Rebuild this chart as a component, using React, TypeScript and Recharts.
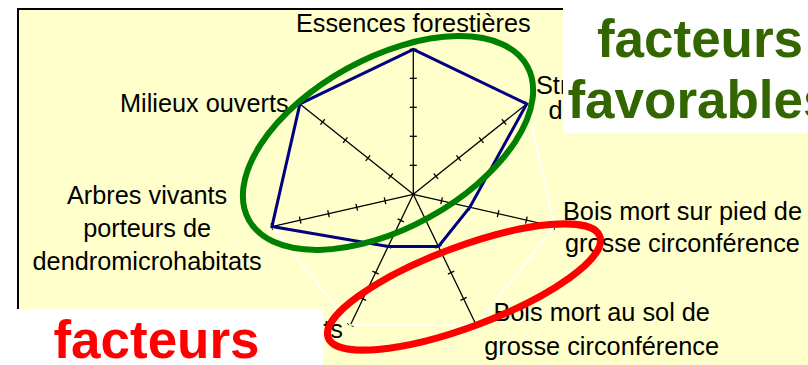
import { RadarChart, PolarGrid, PolarAngleAxis, PolarRadiusAxis, Radar } from 'recharts';

// axes of the IBP radar, clockwise from the top
const CATEGORIES = [
  'Essences forestières',
  'Structure verticale de la végétation',
  'Bois mort sur pied de grosse circonférence',
  'Bois mort au sol de grosse circonférence',
  'Très gros bois vivants',
  'Arbres vivants porteurs de dendromicrohabitats',
  'Milieux ouverts',
];
const LABEL_LINES = [
  ['Essences forestières'],
  ['Structure verticale', 'de la végétation'],
  ['Bois mort sur pied de', 'grosse circonférence'],
  ['Bois mort au sol de', 'grosse circonférence'],
  ['Très gros bois vivants'],
  ['Arbres vivants', 'porteurs de', 'dendromicrohabitats'],
  ['Milieux ouverts'],
];
const SCORES = [5, 5, 2, 2, 2, 5, 5];
const SCALE_MAX = 5;

const data = CATEGORIES.map((axe, i) => ({ axe, score: SCORES[i] }));

const W = 808;
const H = 365;
const CX = 413.3;
const CY = 194.3;
const R = 145;
const FONT = "'Liberation Sans', Arial, sans-serif";

// where each category label sits relative to the angle-axis tick point
const LABEL_LAYOUT = [
  { anchor: 'middle', dx: 0, dy: -9, lh: 33 },
  { anchor: 'middle', dx: 105, dy: -5, lh: 25 },
  { anchor: 'middle', dx: 120, dy: -8, lh: 32 },
  { anchor: 'middle', dx: 122, dy: -11, lh: 34 },
  { anchor: 'end', dx: -4, dy: 6, lh: 33 },
  { anchor: 'middle', dx: -117, dy: -24, lh: 33 },
  { anchor: 'end', dx: -5, dy: 13, lh: 33 },
];

function CategoryLabel(props: any) {
  const { x, y, index } = props;
  const lay = LABEL_LAYOUT[index];
  const lines = LABEL_LINES[index];
  return (
    <text x={x + lay.dx} y={y + lay.dy} textAnchor={lay.anchor} fontFamily={FONT} fontSize={25.3} fill="#000">
      {lines.map((l, k) => (
        <tspan key={k} x={x + lay.dx} dy={k === 0 ? 0 : lay.lh}>
          {l}
        </tspan>
      ))}
    </text>
  );
}

function makeTickMark(angle: number) {
  const rad = (angle * Math.PI) / 180;
  const px = Math.sin(rad) * 3.5;
  const py = Math.cos(rad) * 3.5;
  return (props: any) => {
    const { x, y, payload } = props;
    if (!payload || payload.value === 0) return <g />;
    return <line x1={x - px} y1={y - py} x2={x + px} y2={y + py} stroke="#000" strokeWidth={1.3} />;
  };
}

// one chart layer per category axis so every radial axis gets its own ticks
function AxisLayer({ angle, withSeries }: { angle: number; withSeries: boolean }) {
  return (
    <div style={{ position: 'absolute', left: 0, top: 0 }}>
      <RadarChart
        width={W}
        height={H}
        data={data}
        cx={CX}
        cy={CY}
        outerRadius={R}
        margin={{ top: 0, right: 0, bottom: 0, left: 0 }}
      >
        {withSeries && (
          <PolarGrid gridType="polygon" radialLines={false} polarRadius={[R]} stroke="#ffffff" strokeWidth={1.6} />
        )}
        {withSeries && <PolarAngleAxis dataKey="axe" tickLine={false} axisLine={false} tick={CategoryLabel} />}
        {!withSeries && <PolarAngleAxis dataKey="axe" tickLine={false} axisLine={false} tick={false} />}
        <PolarRadiusAxis
          angle={angle}
          domain={[0, SCALE_MAX]}
          tickCount={SCALE_MAX + 1}
          type="number"
          axisLine={{ stroke: '#000', strokeWidth: 1.3 }}
          tick={makeTickMark(angle)}
        />
        <Radar
          dataKey="score"
          stroke={withSeries ? '#000080' : 'none'}
          strokeWidth={3}
          fill="none"
          fillOpacity={0}
          dot={false}
          isAnimationActive={false}
        />
      </RadarChart>
    </div>
  );
}

export default function App() {
  const angles = CATEGORIES.map((_, i) => 90 - (i * 360) / CATEGORIES.length);
  return (
    <div style={{ position: 'absolute', left: 0, top: 0, width: W, height: H, background: '#fff', overflow: 'hidden' }}>
      <div
        style={{
          position: 'absolute',
          left: 17,
          top: 8,
          width: W,
          height: H,
          background: '#ffffcc',
          borderTop: '2px solid #000',
          borderLeft: '2px solid #000',
        }}
      />
      {angles.slice(1).map((a, i) => (
        <AxisLayer key={i} angle={a} withSeries={false} />
      ))}
      <AxisLayer angle={angles[0]} withSeries />
      <svg width={W} height={H} style={{ position: 'absolute', left: 0, top: 0, pointerEvents: 'none' }}>
        <rect x={563} y={0} width={280} height={133} fill="#fff" />
        <rect x={0} y={309} width={323} height={60} fill="#fff" />
        <text x={700} y={57} textAnchor="middle" fontFamily={FONT} fontWeight="bold" fontSize={53} fill="#336600">
          facteurs
        </text>
        <text x={700} y={118} textAnchor="middle" fontFamily={FONT} fontWeight="bold" fontSize={53} fill="#336600">
          favorables
        </text>
        <text x={156.5} y={358} textAnchor="middle" fontFamily={FONT} fontWeight="bold" fontSize={53} fill="#ff0000">
          facteurs
        </text>
        <ellipse
          cx={388}
          cy={143}
          rx={159}
          ry={85}
          transform="rotate(-28.9 388 143)"
          fill="none"
          stroke="#008000"
          strokeWidth={6}
        />
        <ellipse
          cx={464}
          cy={287}
          rx={145}
          ry={40}
          transform="rotate(-20.5 464 287)"
          fill="none"
          stroke="#ff0000"
          strokeWidth={7}
        />
      </svg>
    </div>
  );
}
